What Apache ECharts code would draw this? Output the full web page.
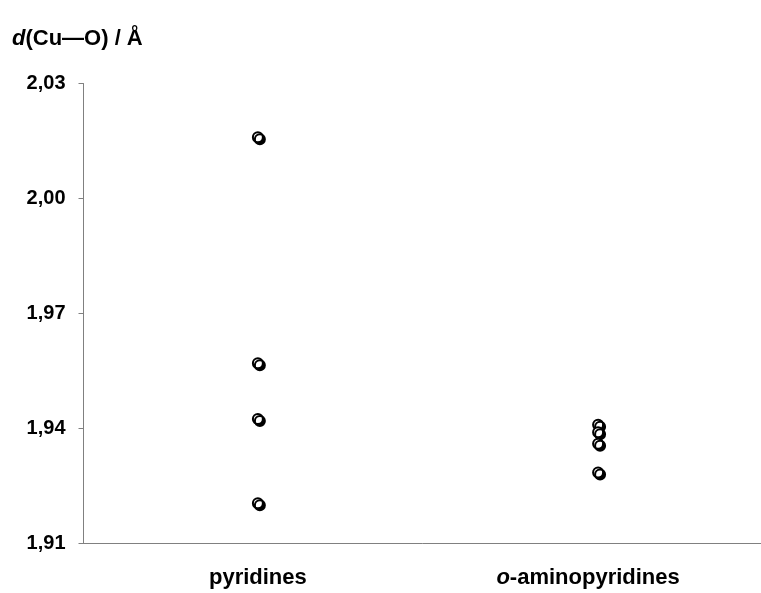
<!DOCTYPE html>
<html>
<head>
<meta charset="utf-8">
<title>d(Cu—O)</title>
<script src="https://cdn.jsdelivr.net/npm/echarts@6/dist/echarts.min.js"></script>
<style>
  html, body { margin: 0; padding: 0; background: #fff; }
  #chart { width: 761px; height: 593px; }
</style>
</head>
<body>
<div id="chart"></div>
<script>
// Cu—O bond lengths (Å) for the two ligand families
const categories = ['pyridines', 'o-aminopyridines'];
const pyridinesValues = [2.016, 1.957, 1.9425, 1.9205];
const aminopyridinesValues = [1.941, 1.939, 1.936, 1.9285];
const yMin = 1.91;
const yMax = 2.03;
const yStep = 0.03;

const FONT = 'Liberation Sans, Arial, Helvetica, sans-serif';

// each group is plotted at its category index on the x axis
const points = [];
pyridinesValues.forEach(v => points.push([0, v]));
aminopyridinesValues.forEach(v => points.push([1, v]));

const chart = echarts.init(document.getElementById('chart'), null, { renderer: 'canvas' });

chart.setOption({
  animation: false,
  backgroundColor: '#ffffff',
  title: {
    text: '{i|d}{b|(Cu—O) / Å}',
    left: 12,
    top: 28,
    padding: 0,
    textStyle: {
      rich: {
        i: { fontFamily: FONT, fontSize: 22, fontWeight: 'bold', fontStyle: 'italic', color: '#000' },
        b: { fontFamily: FONT, fontSize: 22, fontWeight: 'bold', color: '#000' }
      }
    }
  },
  grid: {
    left: 83.5,
    right: 0,
    top: 83.5,
    bottom: 49.5,
    containLabel: false
  },
  xAxis: {
    type: 'value',
    min: -0.5125,
    max: 1.4788,
    axisLine: { show: true, onZero: false, lineStyle: { color: '#808080', width: 1 } },
    axisTick: { show: false },
    splitLine: { show: false },
    axisLabel: {
      margin: 23,
      customValues: [0, 1],
      formatter: function (v) {
        const name = categories[Math.round(v)];
        if (name === 'o-aminopyridines') {
          return '{i|o}{b|-aminopyridines}{gap|}';
        }
        return '{b|' + name + '}';
      },
      rich: {
        i: { fontFamily: FONT, fontSize: 22, fontWeight: 'bold', fontStyle: 'italic', color: '#000' },
        b: { fontFamily: FONT, fontSize: 22, fontWeight: 'bold', color: '#000' },
        gap: { fontFamily: FONT, fontSize: 22, width: 20 }
      }
    }
  },
  yAxis: {
    type: 'value',
    min: yMin,
    max: yMax,
    interval: yStep,
    axisLine: { show: true, onZero: false, lineStyle: { color: '#808080', width: 1 } },
    axisTick: { show: true, length: 5, lineStyle: { color: '#808080', width: 1 } },
    splitLine: { show: false },
    axisLabel: {
      margin: 18,
      fontFamily: FONT,
      fontSize: 20,
      fontWeight: 'bold',
      color: '#000',
      formatter: v => v.toFixed(2).replace('.', ',')
    }
  },
  series: [{
    type: 'scatter',
    data: points,
    symbol: 'circle',
    symbolSize: 10,
    itemStyle: {
      color: '#ffffff',
      borderColor: '#000000',
      borderWidth: 2,
      shadowColor: 'rgba(0,0,0,1)',
      shadowBlur: 0,
      shadowOffsetX: 2,
      shadowOffsetY: 2,
      opacity: 1
    },
    emphasis: { disabled: true }
  }]
});
</script>
</body>
</html>
